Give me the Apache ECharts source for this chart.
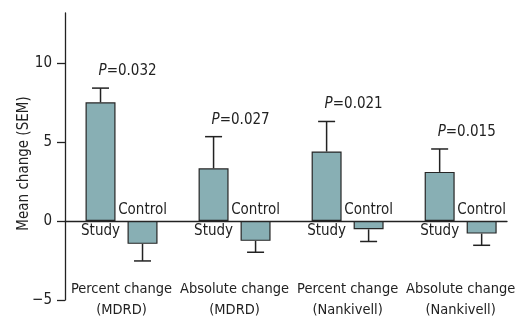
<!DOCTYPE html>
<html>
<head>
<meta charset="utf-8">
<style>
  html, body { margin: 0; padding: 0; background: #fff; }
  #chart { width: 517px; height: 319px; }
</style>
<script src="https://cdn.jsdelivr.net/npm/echarts@6/dist/echarts.min.js"></script>
</head>
<body>
<div id="chart"></div>
<script>
// Values (mean change, SEM)
const groups = ['Percent change\n(MDRD)', 'Absolute change\n(MDRD)', 'Percent change\n(Nankivell)', 'Absolute change\n(Nankivell)'];
const studyMean = [7.5, 3.33, 4.39, 3.1];
const studySem = [0.9, 2.0, 1.9, 1.45];
const controlMean = [-1.45, -1.26, -0.53, -0.8];
const controlSem = [1.08, 0.72, 0.77, 0.74];
const pValues = ['0.032', '0.027', '0.021', '0.015'];
const yTicks = [-5, 0, 5, 10];

const FONT = '"DejaVu Sans Condensed", "Liberation Sans", sans-serif';
const FS = 15;
const INK = '#222';
const BAR = '#88afb4';
const BAR_W = 30;
const BAR_GAP = 12;               // px between study and control bars
const HALF = (BAR_W + BAR_GAP) / 2;

const chart = echarts.init(document.getElementById('chart'), null, { renderer: 'canvas' });

// error bar drawn only outward from the bar end, with a cap
function errRenderer(side, withP) {
    return (params, api) => {
        const i = api.value(0);
        const mean = api.value(1);
        const sem = api.value(2);
        const dir = mean >= 0 ? 1 : -1;
        const x = api.coord([i, 0])[0] + side * HALF;
        const yEnd = api.coord([i, mean])[1];
        const yTip = api.coord([i, mean + dir * sem])[1];
        const lineStyle = { stroke: INK, lineWidth: 1.5 };
        const children = [
            { type: 'line', shape: { x1: x, y1: yEnd, x2: x, y2: yTip }, style: lineStyle },
            { type: 'line', shape: { x1: x - 8.5, y1: yTip, x2: x + 8.5, y2: yTip }, style: lineStyle },
        ];
        if (withP) {
            children.push({
                type: 'text',
                style: {
                    x: x - 2, y: yTip - 17,
                    text: '{i|P}=' + pValues[params.dataIndex],
                    font: FS + 'px ' + FONT,
                    fill: INK,
                    align: 'left',
                    verticalAlign: 'middle',
                    rich: { i: { fontStyle: 'italic', font: 'italic ' + FS + 'px ' + FONT, fill: INK } },
                },
            });
        }
        return { type: 'group', children };
    };
}

const barCommon = {
    type: 'bar',
    barWidth: BAR_W,
    barGap: (BAR_GAP / BAR_W * 100) + '%',
    itemStyle: { color: BAR, borderColor: '#262626', borderWidth: 1.2 },
};

chart.setOption({
    animation: false,
    textStyle: { fontFamily: FONT },
    grid: { left: 65, right: 10, top: 13, bottom: 19, containLabel: false, outerBoundsMode: 'none' },
    xAxis: {
        type: 'value',
        min: -0.5,
        max: 3.41,
        splitLine: { show: false },
        axisTick: { show: false },
        axisLine: { onZero: true, lineStyle: { color: INK, width: 1.3 } },
        axisLabel: {
            customValues: [0, 1, 2, 3],
            formatter: (v) => groups[Math.round(v)] || '',
            showMinLabel: true,
            showMaxLabel: true,
            hideOverlap: false,
            color: INK,
            fontSize: 14.5,
            lineHeight: 21,
            margin: -21,
            fontFamily: FONT,
        },
    },
    yAxis: {
        type: 'value',
        min: -5,
        max: 13.15,
        interval: 5,
        name: 'Mean change (SEM)',
        nameLocation: 'middle',
        nameGap: 33,
        nameMoveOverlap: false,
        nameTextStyle: { color: INK, fontSize: FS, fontFamily: FONT, padding: [0, 14, 0, 0] },
        splitLine: { show: false },
        axisLine: { show: true, onZero: false, lineStyle: { color: INK, width: 1.3 } },
        axisTick: { show: true, length: 8, customValues: yTicks, lineStyle: { color: INK, width: 1.3 } },
        axisLabel: {
            customValues: yTicks,
            formatter: (v) => String(v).replace('-', '\u2212'),
            color: INK,
            fontSize: FS,
            margin: 13,
            fontFamily: FONT,
        },
    },
    series: [
        {
            ...barCommon,
            name: 'Study',
            data: studyMean.map((v, i) => [i, v]),
            label: { show: true, position: 'bottom', distance: 3, formatter: 'Study', color: INK, fontSize: FS, fontFamily: FONT },
        },
        {
            ...barCommon,
            name: 'Control',
            data: controlMean.map((v, i) => [i, v]),
            label: { show: true, position: 'top', distance: 3, formatter: 'Control', color: INK, fontSize: FS, fontFamily: FONT },
        },
        {
            type: 'custom',
            name: 'Study SEM',
            renderItem: errRenderer(-1, true),
            encode: { x: 0, y: 1 },
            data: studyMean.map((v, i) => [i, v, studySem[i]]),
            z: 3,
        },
        {
            type: 'custom',
            name: 'Control SEM',
            renderItem: errRenderer(1, false),
            encode: { x: 0, y: 1 },
            data: controlMean.map((v, i) => [i, v, controlSem[i]]),
            z: 3,
        },
    ],
});
</script>
</body>
</html>
